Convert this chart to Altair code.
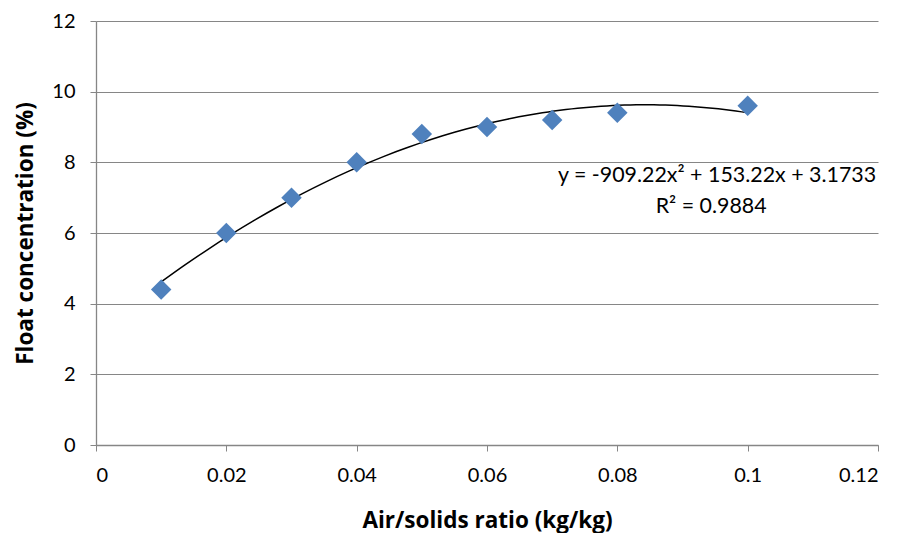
import altair as alt
import pandas as pd

air_solids = [0.01, 0.02, 0.03, 0.04, 0.05, 0.06, 0.07, 0.08, 0.1]
float_conc = [4.4, 6.0, 7.0, 8.0, 8.8, 9.0, 9.2, 9.4, 9.6]

eq_text = ["y = -909.22x² + 153.22x + 3.1733", "R² = 0.9884"]
eq_x = [0.0953, 0.0944]
eq_y = [7.6, 6.75]

FONT = "Lato"
TFONT = "Open Sans"
df = pd.DataFrame({"x": air_solids, "y": float_conc})
ann = pd.DataFrame({"t": eq_text, "x": eq_x, "y": eq_y})

xs = alt.Scale(domain=[0, 0.12], nice=False)
ys = alt.Scale(domain=[0, 12], nice=False)

base = alt.Chart(df)

points = base.mark_point(shape="diamond", filled=True, color="#4F81BD", size=420, opacity=1).encode(
    x=alt.X("x:Q", scale=xs, title="Air/solids ratio (kg/kg)",
            axis=alt.Axis(values=[0, 0.02, 0.04, 0.06, 0.08, 0.1, 0.12], format="~g",
                          grid=False, tickSize=6, labelPadding=14, titlePadding=24)),
    y=alt.Y("y:Q", scale=ys, title="Float concentration (%)",
            axis=alt.Axis(values=[0, 2, 4, 6, 8, 10, 12], grid=True, tickSize=6,
                          labelPadding=15, titlePadding=14)),
)

trend = base.transform_regression("x", "y", method="poly", order=2, extent=[0.01, 0.1]).mark_line(
    color="black", strokeWidth=1.5, interpolate="monotone"
).encode(x=alt.X("x:Q", scale=xs), y=alt.Y("y:Q", scale=ys))

text = alt.Chart(ann).mark_text(font=FONT, fontSize=21.4, color="black").encode(
    x=alt.X("x:Q", scale=xs), y=alt.Y("y:Q", scale=ys), text="t:N"
)

chart = alt.layer(trend, points, text).properties(
    width=782, height=424,
    autosize=alt.AutoSizeParams(type="none"),
    padding={"left": 96, "top": 21, "right": 30, "bottom": 88},
).configure_view(stroke=None).configure_axis(
    labelFont=FONT, labelFontSize=20, labelColor="black",
    titleFont=TFONT, titleFontSize=22.5, titleFontWeight="bold", titleColor="black",
    domainColor="#868686", tickColor="#868686", gridColor="#868686", gridWidth=1,
    domainWidth=1.3,
)

chart.save("out.html", embed_options={"renderer": "svg", "actions": False})
